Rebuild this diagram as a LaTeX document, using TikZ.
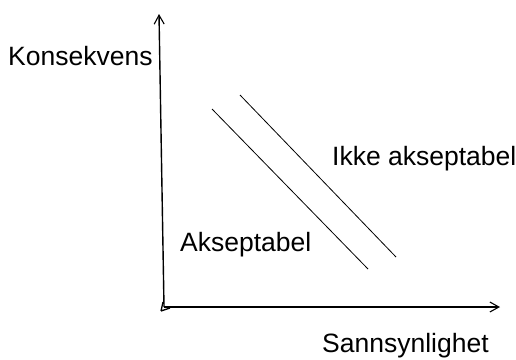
\documentclass[tikz,border=0pt]{standalone}
\usepackage{fontspec}
\setmainfont{Liberation Sans}
\usetikzlibrary{arrows.meta, positioning}

\begin{document}
\begin{tikzpicture}[
  x=1pt, y=-1pt,
  axis/.style={line width=1.4pt, -{Straight Barb[length=9pt, width=10pt, line width=1.1pt]}},
  border/.style={line width=0.8pt},
  label/.style={anchor=base west, inner sep=0pt, font=\fontsize{26.5}{30}\selectfont}
]
  \useasboundingbox (0, 0) rectangle (516, 359);

  % Axes
  \coordinate (origin) at (164, 307);
  \coordinate (ytop) at (159, 14);
  \coordinate (xend) at (500, 307);
  \coordinate (corner) at (161, 311);
  \draw[axis] (origin) -- (ytop);
  \draw[axis] (origin) -- (xend);
  \draw[line width=1.3pt] (corner) -- ++(2, -9) (corner) -- ++(9, -3);

  % Boundary lines
  \coordinate (lowA) at (212, 109);
  \coordinate (lowB) at (368, 269);
  \coordinate (highA) at (240, 95);
  \coordinate (highB) at (396, 257);
  \draw[border] (lowA) -- (lowB);
  \draw[border] (highA) -- (highB);

  % Labels
  \node[label] (konsekvens) at (8, 65) {Konsekvens};
  \node[label] (ikke) at (332, 165) {Ikke akseptabel};
  \node[label] (akseptabel) at (180, 251) {Akseptabel};
  \node[label] (sannsynlighet) at (322, 352.5) {Sannsynlighet};
\end{tikzpicture}
\end{document}
